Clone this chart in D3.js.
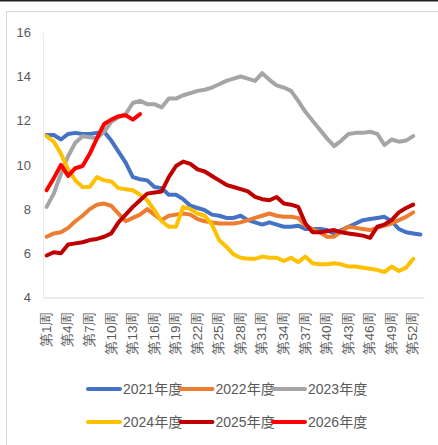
<!DOCTYPE html>
<html>
<head>
<meta charset="utf-8">
<script src="https://cdn.jsdelivr.net/npm/d3@7"></script>
<style>
  body { margin: 0; background: #fff; }
  svg { display: block; font-family: "Liberation Sans", "Noto Sans CJK SC", sans-serif; }
</style>
</head>
<body>
<svg id="chart" width="438" height="445"></svg>
<script>
// weeks 1..53, labels every 3rd week
var weeks = d3.range(1, 54).map(function(i) { return "第" + i + "周"; });
var tickLabels = ["第1周", "第4周", "第7周", "第10周", "第13周", "第16周", "第19周", "第22周", "第25周",
  "第28周", "第31周", "第34周", "第37周", "第40周", "第43周", "第46周", "第49周", "第52周"];
var yTicks = [4, 6, 8, 10, 12, 14, 16];

var seriesNames = ["2021年度", "2022年度", "2023年度", "2024年度", "2025年度", "2026年度"];
var seriesColors = ["#4472C4", "#ED7D31", "#A5A5A5", "#FFC000", "#C00000", "#FF0000"];

var y2021 = [11.35, 11.35, 11.15, 11.4, 11.45, 11.4, 11.4, 11.45, 11.5, 11.1, 10.6, 10.1, 9.45, 9.35, 9.3, 9.0,
  8.95, 8.65, 8.65, 8.45, 8.15, 8.05, 7.95, 7.75, 7.7, 7.6, 7.6, 7.7, 7.5, 7.4, 7.3, 7.4, 7.3, 7.2, 7.2, 7.25,
  7.1, 7.1, 7.1, 7.05, 6.9, 7.05, 7.2, 7.35, 7.5, 7.55, 7.6, 7.65, 7.45, 7.1, 6.95, 6.9, 6.85];
var y2022 = [6.75, 6.9, 6.95, 7.15, 7.45, 7.7, 8.0, 8.2, 8.25, 8.15, 7.8, 7.45, 7.6, 7.75, 8.0, 7.75,
  7.5, 7.7, 7.75, 7.8, 7.75, 7.55, 7.45, 7.4, 7.35, 7.35, 7.35, 7.4, 7.5, 7.6, 7.7, 7.8, 7.7, 7.65, 7.65, 7.6,
  7.25, 7.1, 6.95, 6.75, 6.75, 7.0, 7.2, 7.15, 7.1, 7.05, 7.15, 7.25, 7.35, 7.5, 7.65, 7.85];
var y2023 = [8.1, 8.7, 9.6, 10.4, 11.0, 11.3, 11.25, 11.2, 11.5, 11.95, 12.15, 12.3, 12.8, 12.9, 12.75, 12.75,
  12.6, 13.0, 13.0, 13.15, 13.25, 13.35, 13.4, 13.5, 13.65, 13.8, 13.9, 14.0, 13.9, 13.8, 14.15, 13.85, 13.6,
  13.5, 13.35, 12.9, 12.4, 12.0, 11.6, 11.2, 10.85, 11.1, 11.4, 11.45, 11.45, 11.5, 11.4, 10.9, 11.15, 11.05,
  11.1, 11.3];
var y2024 = [11.3, 11.05, 10.5, 9.8, 9.3, 9.0, 9.0, 9.45, 9.3, 9.25, 8.95, 8.9, 8.85, 8.65, 8.4, 7.95,
  7.45, 7.2, 7.2, 8.1, 8.0, 7.8, 7.7, 7.3, 6.6, 6.3, 5.95, 5.8, 5.75, 5.75, 5.85, 5.8, 5.8, 5.65, 5.8, 5.6,
  5.85, 5.55, 5.5, 5.5, 5.55, 5.5, 5.4, 5.4, 5.35, 5.3, 5.25, 5.15, 5.4, 5.2, 5.35, 5.75];
var y2025 = [5.9, 6.05, 6.0, 6.4, 6.45, 6.5, 6.6, 6.65, 6.75, 6.9, 7.4, 7.75, 8.1, 8.4, 8.7, 8.75,
  8.8, 9.45, 9.95, 10.15, 10.05, 9.8, 9.7, 9.5, 9.3, 9.1, 9.0, 8.9, 8.8, 8.55, 8.45, 8.4, 8.55, 8.25, 8.2, 8.1,
  7.35, 6.95, 6.95, 7.0, 7.05, 6.95, 6.9, 6.85, 6.8, 6.7, 7.2, 7.3, 7.5, 7.85, 8.05, 8.2];
var y2026 = [8.85, 9.4, 10.0, 9.5, 9.85, 9.95, 10.5, 11.2, 11.85, 12.05, 12.2, 12.25, 12.05, 12.3];

var seriesValues = [y2021, y2022, y2023, y2024, y2025, y2026];

var svg = d3.select("#chart");

// frame
svg.append("rect")
  .attr("x", 6.5).attr("y", 11.5)
  .attr("width", 460).attr("height", 460)
  .attr("fill", "none")
  .attr("stroke", "#d9d9d9");
svg.append("line")
  .attr("x1", 0).attr("x2", 438).attr("y1", 0.5).attr("y2", 0.5)
  .attr("stroke", "#222").attr("stroke-width", 2);

var x = d3.scalePoint()
  .domain(weeks)
  .range([43, 424])
  .padding(0.5);

var y = d3.scaleLinear()
  .domain([4, 16])
  .range([297.5, 32.3]);

// y axis
var yAxis = svg.append("g")
  .attr("transform", "translate(43,0)")
  .call(d3.axisLeft(y).tickValues(yTicks).tickSize(0).tickPadding(12));
yAxis.select(".domain").attr("stroke", "#ececec");
yAxis.selectAll("text")
  .attr("fill", "#595959")
  .style("font-size", "13px");

// x axis
var xAxis = svg.append("g")
  .attr("transform", "translate(0,297.5)")
  .call(d3.axisBottom(x).tickValues(tickLabels).tickSize(0));
xAxis.select(".domain").attr("stroke", "#d9d9d9");
xAxis.selectAll("text")
  .attr("fill", "#595959")
  .style("font-size", "13.5px")
  .attr("text-anchor", "end")
  .attr("transform", "rotate(-90)")
  .attr("x", -14)
  .attr("y", -1)
  .attr("dy", "0.35em");

// lines
var line = d3.line()
  .x(function(d, i) { return x(weeks[i]); })
  .y(function(d) { return y(d); });

svg.append("g")
  .selectAll("path")
  .data(seriesValues)
  .enter().append("path")
    .attr("d", line)
    .attr("fill", "none")
    .attr("stroke", function(d, i) { return seriesColors[i]; })
    .attr("stroke-width", 4)
    .attr("stroke-linejoin", "round")
    .attr("stroke-linecap", "round");

// legend
var legend = svg.append("g")
  .selectAll("g")
  .data(seriesNames)
  .enter().append("g")
    .attr("transform", function(d, i) {
      return "translate(" + (88 + (i % 3) * 92.5) + "," + (389 + Math.floor(i / 3) * 33) + ")";
    });
legend.append("line")
  .attr("x1", 0).attr("x2", 32)
  .attr("stroke", function(d, i) { return seriesColors[i]; })
  .attr("stroke-width", 4)
  .attr("stroke-linecap", "round");
legend.append("text")
  .attr("x", 35)
  .attr("dy", "0.35em")
  .attr("fill", "#595959")
  .style("font-size", "14px")
  .text(function(d) { return d; });
</script>
</body>
</html>
